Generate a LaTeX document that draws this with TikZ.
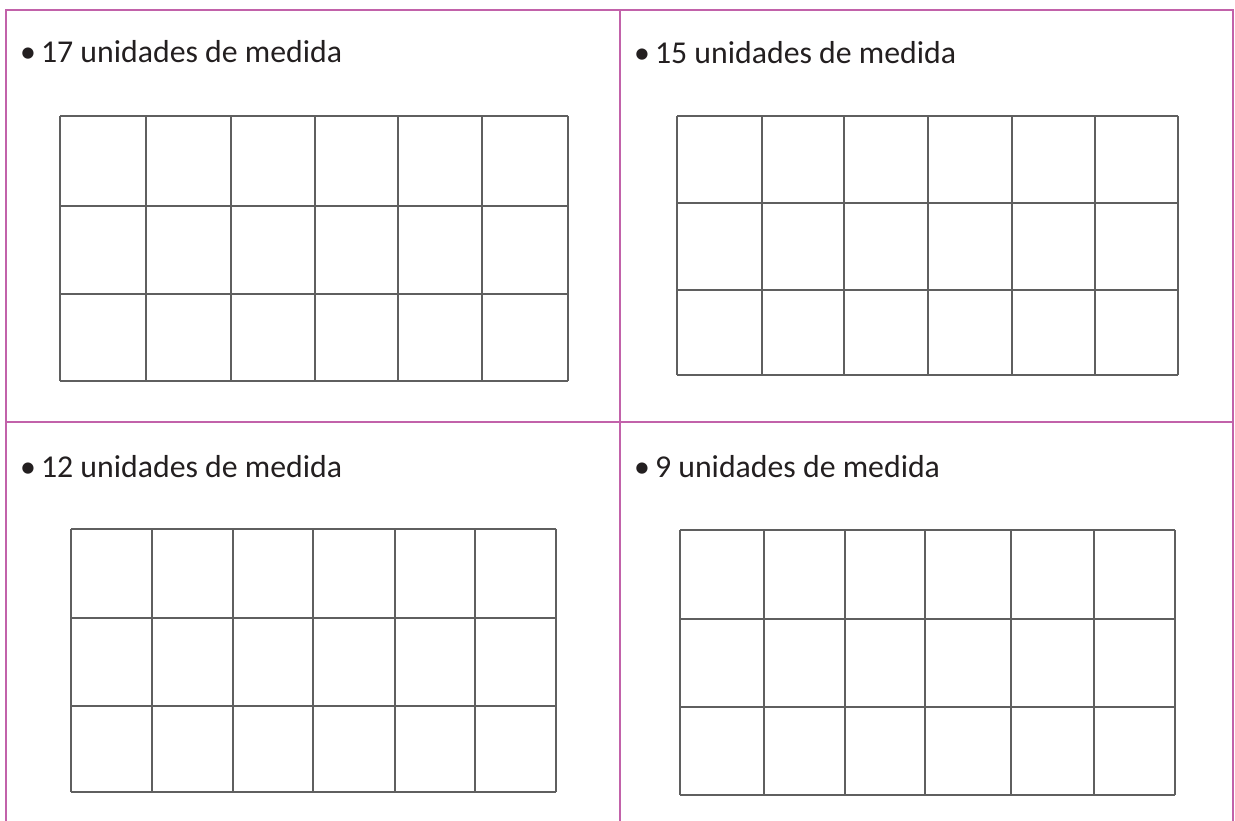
\documentclass[tikz,border=0pt]{standalone}
\usepackage{fontspec}
\setmainfont{Carlito}
\definecolor{frame}{RGB}{194,98,170}
\definecolor{gridc}{RGB}{95,95,95}
\definecolor{txt}{RGB}{35,31,32}
\begin{document}
\begin{tikzpicture}[x=1pt,y=-1pt,
  framel/.style={draw=frame,line width=2pt},
  gridl/.style={draw=gridc,line width=1.6pt},
  label/.style={anchor=base west,inner sep=0pt,font=\fontsize{31.8}{38}\selectfont,text=txt}]
\useasboundingbox (0,0) rectangle (1235,821);
% table frame
\draw[framel] (6,821) -- (6,10) -- (1233,10) -- (1233,821);
\draw[framel] (620,10) -- (620,821);
\draw[framel] (6,422) -- (1233,422);
% labels
\node[label] (t1) at (20,63) {•\hspace{5pt}17 unidades de medida};
\node[label] (t2) at (634,64) {•\hspace{5pt}15 unidades de medida};
\node[label] (t3) at (20,477) {•\hspace{5pt}12 unidades de medida};
\node[label] (t4) at (634,477) {•\hspace{5pt}9 unidades de medida};
% grid TL
\foreach \x in {60,146,231,315,398,482,568} \draw[gridl] (\x,116) -- (\x,381);
\foreach \y in {116,206,294,381} \draw[gridl] (60,\y) -- (568,\y);
% grid TR
\foreach \x in {677,762,844,928,1012,1095,1178} \draw[gridl] (\x,116) -- (\x,375);
\foreach \y in {116,203,290,375} \draw[gridl] (677,\y) -- (1178,\y);
% grid BL
\foreach \x in {71,152,233,313,395,475,556} \draw[gridl] (\x,529) -- (\x,792);
\foreach \y in {529,618,706,792} \draw[gridl] (71,\y) -- (556,\y);
% grid BR
\foreach \x in {680,764,845,925,1011,1094,1175} \draw[gridl] (\x,530) -- (\x,795);
\foreach \y in {530,619,707,795} \draw[gridl] (680,\y) -- (1175,\y);
\end{tikzpicture}
\end{document}
